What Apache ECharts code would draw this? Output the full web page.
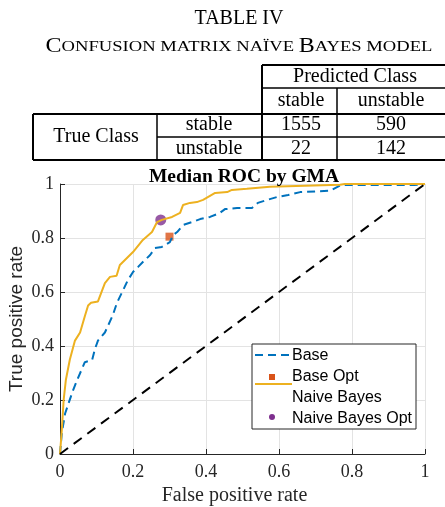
<!DOCTYPE html>
<html>
<head>
<meta charset="utf-8">
<script src="https://cdn.jsdelivr.net/npm/echarts@6/dist/echarts.min.js"></script>
<style>
  html, body { margin: 0; padding: 0; background: #fff; }
  #roc { width: 445px; height: 507px; }
</style>
</head>
<body>
<div id="roc"></div>
<script>
// confusion matrix values
const predictedLabels = ['stable', 'unstable'];
const trueLabels = ['stable', 'unstable'];
const confusion = [[1555, 590], [22, 142]];

// ROC curves
const baseFpr = [0, 0.005, 0.014, 0.019, 0.036, 0.047, 0.068, 0.088, 0.096, 0.104, 0.123, 0.145, 0.156, 0.173, 0.186, 0.2, 0.214, 0.227, 0.247, 0.26, 0.279, 0.301, 0.31, 0.321, 0.337, 0.362, 0.384, 0.411, 0.438, 0.452, 0.485, 0.526, 0.542, 0.567, 0.595, 0.625, 0.658, 0.74, 0.77, 0.97, 1];
const baseTpr = [0, 0.078, 0.15, 0.17, 0.237, 0.274, 0.34, 0.348, 0.39, 0.42, 0.45, 0.515, 0.56, 0.607, 0.644, 0.674, 0.693, 0.711, 0.737, 0.763, 0.767, 0.785, 0.811, 0.822, 0.848, 0.859, 0.87, 0.878, 0.893, 0.907, 0.911, 0.911, 0.93, 0.941, 0.952, 0.959, 0.97, 0.975, 0.996, 0.996, 1];
const nbFpr = [0, 0.005, 0.01, 0.016, 0.027, 0.041, 0.055, 0.068, 0.077, 0.085, 0.104, 0.123, 0.137, 0.155, 0.164, 0.2, 0.227, 0.252, 0.266, 0.279, 0.307, 0.329, 0.337, 0.356, 0.375, 0.392, 0.425, 0.458, 0.471, 0.512, 0.575, 0.767, 0.78, 1];
const nbTpr = [0, 0.09, 0.2, 0.274, 0.35, 0.42, 0.45, 0.51, 0.55, 0.56, 0.565, 0.633, 0.656, 0.66, 0.7, 0.748, 0.793, 0.822, 0.859, 0.867, 0.878, 0.893, 0.922, 0.93, 0.933, 0.941, 0.967, 0.97, 0.978, 0.982, 0.99, 0.997, 1, 1];
const baseOpt = [0.3, 0.805];
const nbOpt = [0.276, 0.867];
const chance = [[0, 0], [1, 1]];
const legendNames = ['Base', 'Base Opt', 'Naive Bayes', 'Naive Bayes Opt'];

const serif = '"Liberation Serif", "DejaVu Serif", serif';
const sans = '"Liberation Sans", Arial, sans-serif';
const pairs = (xs, ys) => xs.map((x, i) => [x, ys[i]]);

// table drawing
const tbl = [];
function hline(x1, x2, y, w) {
  tbl.push({ type: 'line', shape: { x1: x1, y1: y, x2: x2, y2: y }, style: { stroke: '#000', lineWidth: w } });
}
function vline(x, y1, y2, w) {
  tbl.push({ type: 'line', shape: { x1: x, y1: y1, x2: x, y2: y2 }, style: { stroke: '#000', lineWidth: w } });
}
function cell(text, x, y) {
  tbl.push({ type: 'text', style: { text: text, x: x, y: y, font: '20px ' + serif, fill: '#000', align: 'center', verticalAlign: 'middle' } });
}
hline(262, 446, 65, 2);
hline(262, 446, 88, 1.5);
hline(33, 446, 114, 2);
hline(157, 446, 137, 1.5);
hline(33, 446, 160, 2);
vline(262, 65, 160, 2);
vline(337, 88, 160, 1.5);
vline(33, 114, 160, 2);
vline(157, 114, 160, 1.5);
cell('Predicted Class', 355, 77);
cell(predictedLabels[0], 301, 101);
cell(predictedLabels[1], 391, 101);
cell('True Class', 96, 137);
cell(trueLabels[0], 209, 125);
cell(trueLabels[1], 209, 149);
cell(String(confusion[0][0]), 301, 125);
cell(String(confusion[0][1]), 391, 125);
cell(String(confusion[1][0]), 301, 149);
cell(String(confusion[1][1]), 391, 149);
tbl.push({ type: 'text', style: { text: 'TABLE IV', x: 239, y: 19, font: '20px ' + serif, fill: '#000', align: 'center', verticalAlign: 'middle' } });
tbl.push({
  type: 'text', x: 239, y: 47, scaleX: 1.2,
  style: {
    text: '{b|C}{s|ONFUSION MATRIX NA\u00CFVE }{b|B}{s|AYES MODEL}',
    x: 0, y: 0, align: 'center', verticalAlign: 'middle', fill: '#000',
    rich: {
      b: { font: '20px ' + serif, fill: '#000' },
      s: { font: '15.5px ' + serif, fill: '#000' }
    }
  }
});

// legend box (mimics the misaligned MATLAB legend)
const lg = [
  { type: 'rect', shape: { x: 252, y: 344, width: 164, height: 85 }, style: { fill: '#fff', stroke: '#262626', lineWidth: 1 }, z: 100 },
  { type: 'line', shape: { x1: 255, y1: 355, x2: 290, y2: 355 }, style: { stroke: '#0072BD', lineWidth: 2, lineDash: [8, 5] }, z: 101 },
  { type: 'rect', shape: { x: 269, y: 374, width: 6, height: 6 }, style: { fill: '#D95319' }, z: 101 },
  { type: 'line', shape: { x1: 255, y1: 384, x2: 292, y2: 384 }, style: { stroke: '#EDB120', lineWidth: 2 }, z: 101 },
  { type: 'circle', shape: { cx: 272, cy: 417, r: 3 }, style: { fill: '#7E2F8E' }, z: 101 }
];
legendNames.forEach((n, i) => {
  lg.push({ type: 'text', z: 101, style: { text: n, x: 292, y: 356 + i * 20.7, font: '16px ' + sans, fill: '#000', verticalAlign: 'middle' } });
});

const option = {
  animation: false,
  title: {
    text: 'Median ROC by GMA',
    left: 239, top: 162, textAlign: 'center',
    textStyle: { fontFamily: serif, fontWeight: 'bold', fontSize: 19.5, color: '#000' }
  },
  grid: { left: 60, right: 20, top: 184, bottom: 53, outerBoundsMode: 'none', containLabel: false },
  xAxis: {
    type: 'value', min: 0, max: 1, interval: 0.2,
    name: 'False positive rate', nameLocation: 'middle', nameGap: 31,
    nameTextStyle: { fontFamily: serif, fontSize: 20, color: '#262626', padding: [0, 16, 0, 0] },
    axisLine: { onZero: false, lineStyle: { color: '#262626', width: 1 } },
    axisTick: { inside: true, length: 5, lineStyle: { color: '#262626' } },
    axisLabel: { fontFamily: serif, fontSize: 18, color: '#262626', margin: 9 },
    splitLine: { lineStyle: { color: '#e3e3e3' } }
  },
  yAxis: {
    type: 'value', min: 0, max: 1, interval: 0.2,
    name: 'True positive rate', nameLocation: 'middle', nameGap: 34, nameMoveOverlap: false,
    nameTextStyle: { fontFamily: sans, fontSize: 19, color: '#262626' },
    axisLine: { show: true, onZero: false, lineStyle: { color: '#262626', width: 1 } },
    axisTick: { show: true, inside: true, length: 5, lineStyle: { color: '#262626' } },
    axisLabel: { fontFamily: serif, fontSize: 18, color: '#262626', margin: 6 },
    splitLine: { lineStyle: { color: '#e3e3e3' } }
  },
  series: [
    {
      name: legendNames[0], type: 'line', data: pairs(baseFpr, baseTpr), symbol: 'none',
      lineStyle: { color: '#0072BD', width: 2, type: [8, 5] }
    },
    {
      name: legendNames[1], type: 'scatter', data: [baseOpt], symbol: 'rect', symbolSize: 8,
      itemStyle: { color: '#D95319' }
    },
    {
      name: legendNames[2], type: 'line', data: pairs(nbFpr, nbTpr), symbol: 'none',
      lineStyle: { color: '#EDB120', width: 2 }
    },
    {
      name: legendNames[3], type: 'scatter', data: [nbOpt], symbol: 'circle', symbolSize: 11,
      itemStyle: { color: '#7E2F8E' }
    },
    {
      type: 'line', data: chance, symbol: 'none',
      lineStyle: { color: '#000', width: 2, type: [10, 7] }
    }
  ],
  graphic: tbl.concat(lg)
};

const chart = echarts.init(document.getElementById('roc'));
chart.setOption(option);
</script>
</body>
</html>
